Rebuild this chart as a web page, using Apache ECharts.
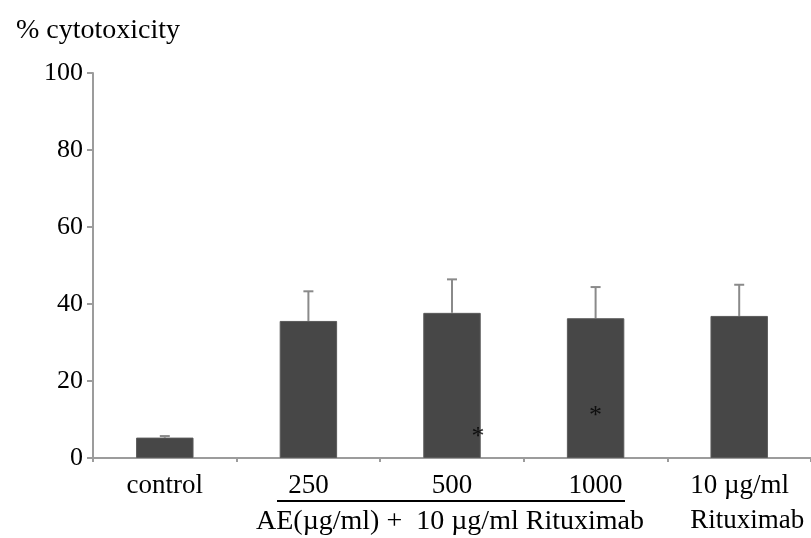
<!DOCTYPE html>
<html>
<head>
<meta charset="utf-8">
<script src="https://cdn.jsdelivr.net/npm/echarts@6/dist/echarts.min.js"></script>
<style>
  html, body { margin: 0; padding: 0; background: #fff; }
  #chart { width: 811px; height: 538px; }
</style>
</head>
<body>
<div id="chart"></div>
<script>
const categories = ['control', '250', '500', '1000', '10 µg/ml\nRituximab'];
const meanValues = [5.3, 35.6, 37.7, 36.3, 36.9];
const upperValues = [5.7, 43.3, 46.4, 44.4, 45.0];
const yTicks = [0, 20, 40, 60, 80, 100];
// significance marks: [category index, value]
const starMarks = [[2, 6.7], [3, 12.2]];
const starOffsets = [[26, 0], [0, 0]];

const font = '"Liberation Serif", "DejaVu Serif", serif';
const chart = echarts.init(document.getElementById('chart'));

chart.setOption({
    animation: false,
    backgroundColor: '#fff',
    title: {
        text: '% cytotoxicity',
        left: 11,
        top: 12,
        textStyle: { fontFamily: font, fontSize: 28, fontWeight: 'normal', color: '#000' }
    },
    grid: { left: 93, right: -2, top: 73, bottom: 80 },
    xAxis: {
        type: 'category',
        data: categories,
        axisLine: { lineStyle: { color: '#9c9c9c', width: 2 } },
        axisTick: { show: true, length: 4, lineStyle: { color: '#9c9c9c', width: 2 } },
        axisLabel: {
            interval: 0,
            hideOverlap: false,
            fontFamily: font, fontSize: 27, color: '#000', margin: 10, lineHeight: 35,
            formatter: (v, i) => i === 4 ? v.split('\n').map(s => '{a|' + s + '}').join('\n') : v,
            rich: { a: { fontFamily: font, fontSize: 27, color: '#000', lineHeight: 35, align: 'left', padding: [0, 0, 0, 16] } }
        }
    },
    yAxis: {
        type: 'value',
        min: yTicks[0],
        max: yTicks[yTicks.length - 1],
        interval: 20,
        splitLine: { show: false },
        axisLine: { show: true, lineStyle: { color: '#9c9c9c', width: 2 } },
        axisTick: { show: true, length: 6, lineStyle: { color: '#9c9c9c', width: 2 } },
        axisLabel: { fontFamily: font, fontSize: 26, color: '#000', margin: 10 }
    },
    series: [
        {
            type: 'bar',
            data: meanValues,
            barWidth: '40%',
            itemStyle: { color: '#474747', borderColor: '#5a5a5a', borderWidth: 1 }
        },
        {
            type: 'custom',
            data: meanValues.map((m, i) => [i, m, upperValues[i]]),
            z: 1,
            renderItem: (params, api) => {
                const base = api.coord([api.value(0), api.value(1)]);
                const top = api.coord([api.value(0), api.value(2)]);
                const style = { stroke: '#8a8a8a', lineWidth: 2 };
                return {
                    type: 'group',
                    children: [
                        { type: 'line', shape: { x1: base[0], y1: base[1], x2: top[0], y2: top[1] }, style },
                        { type: 'line', shape: { x1: top[0] - 5, y1: top[1], x2: top[0] + 5, y2: top[1] }, style }
                    ]
                };
            }
        },
        {
            type: 'scatter',
            data: starMarks,
            symbolSize: 1,
            itemStyle: { color: 'rgba(0,0,0,0)' },
            label: {
                show: true,
                position: 'inside',
                formatter: '*',
                fontFamily: font,
                fontSize: 26,
                color: '#000'
            },
            labelLayout: (params) => ({ dx: starOffsets[params.dataIndex][0], dy: starOffsets[params.dataIndex][1] + 5 })
        }
    ],
    graphic: [
        { type: 'line', shape: { x1: 277, y1: 501, x2: 625, y2: 501 }, style: { stroke: '#000', lineWidth: 2 } },
        {
            type: 'text', left: 256, top: 508,
            style: { text: 'AE(µg/ml) +  10 µg/ml Rituximab', font: '28px ' + font, fill: '#000' }
        }
    ]
});
</script>
</body>
</html>
